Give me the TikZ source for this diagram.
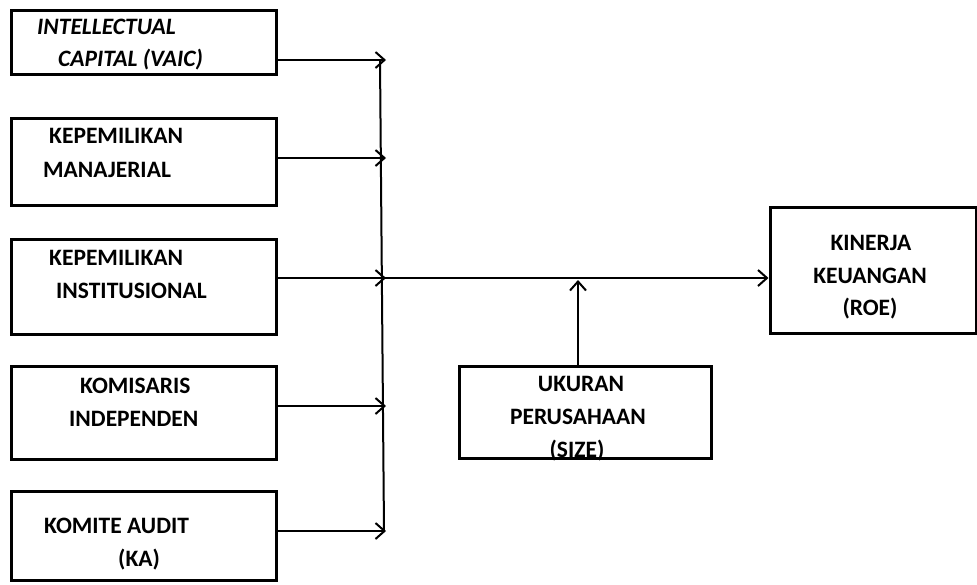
\documentclass[tikz,border=0pt]{standalone}
\usepackage{fontspec}
\setmainfont{Carlito}
\usetikzlibrary{arrows.meta}
\begin{document}
\begin{tikzpicture}[x=1pt,y=-1pt,
  box/.style={draw=black,line width=3pt,rectangle,inner sep=0pt},
  txt/.style={inner sep=0pt,font=\fontsize{23.5}{28}\selectfont\bfseries},
  arr/.style={line width=2pt,-{Straight Barb[length=9pt,width=16pt,line width=2pt]}},
  ln/.style={line width=2pt}]
\useasboundingbox (0,0) rectangle (977,584);
% boxes
\node[box,minimum width=265pt,minimum height=64pt] (b1) at (143.5,42) {};
\node[box,minimum width=265pt,minimum height=87pt] (b2) at (143.5,161.5) {};
\node[box,minimum width=265pt,minimum height=95pt] (b3) at (143.5,286.5) {};
\node[box,minimum width=265pt,minimum height=93pt] (b4) at (143.5,412.5) {};
\node[box,minimum width=265pt,minimum height=89pt] (b5) at (143.5,535.5) {};
\node[box,minimum width=206pt,minimum height=126pt] (kin) at (873,270) {};
\node[box,minimum width=252pt,minimum height=92pt] (uk) at (585,412) {};
% texts
\node[txt,anchor=base west] (t1a) at (37,34) {\itshape INTELLECTUAL};
\node[txt,anchor=base west] (t1b) at (58,66) {\itshape CAPITAL (VAIC)};
\node[txt,anchor=base west] (t2a) at (49,143) {KEPEMILIKAN};
\node[txt,anchor=base west] (t2b) at (43,177) {MANAJERIAL};
\node[txt,anchor=base west] (t3a) at (49,265) {KEPEMILIKAN};
\node[txt,anchor=base west] (t3b) at (56,298) {INSTITUSIONAL};
\node[txt,anchor=base west] (t4a) at (80,393) {KOMISARIS};
\node[txt,anchor=base west] (t4b) at (69,426) {INDEPENDEN};
\node[txt,anchor=base west] (t5a) at (44,533) {KOMITE AUDIT};
\node[txt,anchor=base west] (t5b) at (118,566) {(KA)};
\node[txt,anchor=base] (k1) at (871,250) {KINERJA};
\node[txt,anchor=base] (k2) at (870,283) {KEUANGAN};
\node[txt,anchor=base] (k3) at (870,315) {(ROE)};
\node[txt,anchor=base] (u1) at (581,391) {UKURAN};
\node[txt,anchor=base] (u2) at (578,424) {PERUSAHAAN};
\node[txt,anchor=base] (u3) at (577,457) {(SIZE)};
% junction coordinates
\coordinate (j1) at (386,60);
\coordinate (j2) at (386,158);
\coordinate (j3) at (386,278);
\coordinate (j4) at (386,406);
\coordinate (j5) at (386,531);
\coordinate (vtop) at (380,60);
\coordinate (vbot) at (384,531);
\coordinate (hs) at (381,278);
\coordinate (up) at (578,280);
% connectors
\draw[arr] (b1.east |- j1) -- (j1);
\draw[arr] (b2.east |- j2) -- (j2);
\draw[arr] (b3.east |- j3) -- (j3);
\draw[arr] (b4.east |- j4) -- (j4);
\draw[arr] (b5.east |- j5) -- (j5);
\draw[ln] (vtop) -- (vbot);
\draw[arr] (hs) -- (kin.west |- hs);
\draw[arr] (uk.north -| up) -- (up);
\end{tikzpicture}
\end{document}
